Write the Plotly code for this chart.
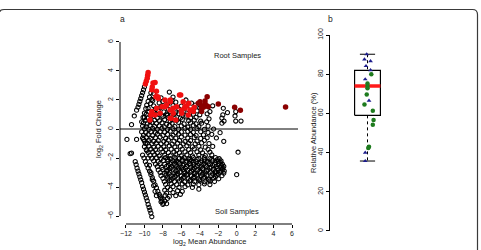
import plotly.graph_objects as go

# ---------------- Panel a data (log2 mean abundance, log2 fold change) ----------------
black_upper = [
    (-9.0, 2.45), (-7.3, 2.55), (-8.2, 2.15), (-6.9, 2.2), (-9.2, 2.05),
    (-9.1, 1.95), (-8.0, 1.9), (-7.0, 1.98), (-5.5, 2.0), (-9.35, 1.75), (-8.4, 1.8), (-7.5, 1.72),
    (-6.6, 1.85), (-4.9, 1.78), (-9.0, 1.6), (-8.2, 1.55), (-6.9, 1.62), (-6.0, 1.58), (-4.5, 1.65),
    (-2.6, 1.6),
    (-9.6, 1.42), (-8.8, 1.38), (-8.3, 1.45), (-7.4, 1.36), (-6.3, 1.41), (-5.3, 1.35), (-4.0, 1.45),
    (-1.45, 1.43), (-1.0, 1.13), (-9.5, 1.2), (-9.0, 1.15), (-8.5, 1.25), (-7.9, 1.18), (-7.2, 1.22),
    (-6.6, 1.12), (-5.8, 1.2), (-5.0, 1.15), (-4.3, 1.25), (-2.9, 1.2), (-0.1, 1.2), (-9.8, 1.02),
    (-9.25, 0.98), (-8.7, 1.05), (-8.15, 0.95), (-7.6, 1.03), (-6.9, 0.98), (-6.3, 1.05), (-5.5, 0.95),
    (-4.7, 1.02), (-4.0, 0.98), (-3.2, 1.05), (-1.5, 0.97), (-0.18, 0.9),
    (-10.0, 0.8), (-9.65, 0.75), (-9.1, 0.83), (-8.6, 0.76), (-8.0, 0.85), (-7.45, 0.78), (-6.8, 0.82),
    (-6.1, 0.75), (-5.5, 0.84), (-5.0, 0.77), (-4.4, 0.8), (-3.0, 0.7), (-1.6, 0.75), (-9.9, 0.6),
    (-9.4, 0.55), (-8.9, 0.62), (-8.35, 0.57), (-7.8, 0.65), (-7.2, 0.55), (-6.5, 0.6), (-5.9, 0.66),
    (-5.2, 0.57), (-4.6, 0.62), (-3.9, 0.55), (-3.25, 0.5), (-1.37, 0.55), (-0.1, 0.55), (0.47, 0.55),
    (-7.5, 0.95), (-9.3, 0.9),
    (-10.1, 0.42), (-9.7, 0.35), (-9.2, 0.45), (-8.7, 0.38), (-8.1, 0.43), (-7.6, 0.33), (-7.0, 0.4),
    (-6.3, 0.46), (-5.7, 0.35), (-5.0, 0.42), (-4.4, 0.36), (-3.8, 0.4), (-1.6, 0.4), (-10.2, 0.2),
    (-9.8, 0.15), (-9.4, 0.25), (-8.9, 0.18), (-8.4, 0.22), (-7.85, 0.15), (-7.3, 0.24), (-6.7, 0.16),
    (-6.0, 0.22), (-5.3, 0.14), (-4.7, 0.25), (-4.1, 0.17), (-3.1, 0.2), (-10.0, 0.02), (-9.5, -0.03),
    (-9.1, 0.05), (-8.6, -0.02), (-8.1, 0.04), (-7.5, -0.04), (-6.9, 0.03), (-6.3, -0.02), (-5.6, 0.05),
    (-5.0, -0.03), (-4.3, 0.03), (-3.5, -0.02), (-2.5, 0.0),
]
black_middle = [
    (-10.3, -0.2), (-9.85, -0.25), (-9.3, -0.17), (-8.8, -0.24), (-8.3, -0.18), (-7.8, -0.22),
    (-7.2, -0.15), (-6.6, -0.25), (-6.0, -0.2), (-5.3, -0.16), (-4.7, -0.23), (-3.9, -0.19),
    (-3.1, -0.24), (-1.8, -0.25), (-10.1, -0.42), (-9.6, -0.38), (-9.1, -0.45), (-8.6, -0.36),
    (-8.0, -0.44), (-7.5, -0.37), (-6.9, -0.43), (-6.3, -0.35), (-5.6, -0.42), (-5.0, -0.38),
    (-4.4, -0.45), (-3.6, -0.4), (-2.7, -0.37),
    (-10.2, -0.62), (-9.8, -0.57), (-9.3, -0.65), (-8.8, -0.6), (-8.3, -0.56), (-7.7, -0.64),
    (-7.1, -0.58), (-6.6, -0.63), (-6.0, -0.55), (-5.3, -0.62), (-4.6, -0.58), (-3.9, -0.65),
    (-3.2, -0.6), (-2.2, -0.62), (-10.1, -0.72), (-10.0, -0.83), (-9.5, -0.78), (-9.0, -0.85),
    (-8.5, -0.8), (-7.9, -0.86), (-7.4, -0.77), (-6.8, -0.84), (-6.2, -0.79), (-5.6, -0.86),
    (-5.0, -0.8), (-4.3, -0.83), (-3.5, -0.78), (-1.4, -0.85), (-9.7, -0.98), (-9.2, -1.03),
    (-8.7, -0.96), (-8.2, -1.02), (-7.6, -0.97), (-7.0, -1.04), (-6.4, -0.98), (-5.8, -1.03),
    (-5.2, -0.97), (-4.5, -1.02), (-3.8, -0.96), (-3.0, -1.0),
    (-10.0, -1.22), (-9.5, -1.18), (-9.0, -1.25), (-8.5, -1.19), (-7.9, -1.23), (-7.3, -1.17),
    (-6.7, -1.24), (-6.1, -1.2), (-5.4, -1.16), (-4.8, -1.23), (-4.1, -1.19), (-3.4, -1.25),
    (-2.6, -1.2), (-9.8, -1.42), (-9.3, -1.38), (-8.8, -1.44), (-8.2, -1.37), (-7.7, -1.43),
    (-7.1, -1.39), (-6.5, -1.45), (-5.9, -1.38), (-5.2, -1.42), (-4.6, -1.37), (-3.9, -1.44),
    (-3.1, -1.4),
    (-9.6, -1.62), (-9.1, -1.58), (-8.6, -1.64), (-8.0, -1.57), (-7.4, -1.63), (-6.8, -1.59),
    (-6.2, -1.65), (-5.6, -1.58), (-5.0, -1.62), (-4.3, -1.57), (-3.7, -1.64), (-2.9, -1.6),
    (0.15, -1.6), (-9.4, -1.82), (-8.9, -1.78), (-8.4, -1.85), (-7.8, -1.79), (-7.2, -1.84),
    (-6.6, -1.77), (-6.0, -1.83), (-5.4, -1.78), (-4.8, -1.85), (-4.1, -1.8), (-3.4, -1.83),
    (-2.7, -1.78),
]
black_lower = [
    (-9.2, -2.02), (-8.7, -1.97), (-8.2, -2.05), (-7.7, -1.98), (-7.2, -2.04), (-6.7, -1.96),
    (-6.2, -2.03), (-5.7, -1.98), (-5.2, -2.05), (-4.7, -1.97), (-4.1, -2.03), (-3.5, -1.98),
    (-2.9, -2.04), (-2.3, -1.97), (-1.9, -2.05),
    (-9.0, -2.2), (-8.5, -2.25), (-7.95, -2.17), (-7.45, -2.23), (-6.95, -2.18), (-6.45, -2.24),
    (-5.9, -2.17), (-5.4, -2.22), (-4.9, -2.16), (-4.4, -2.25), (-3.8, -2.19), (-3.2, -2.24),
    (-2.6, -2.18), (-2.0, -2.23), (-1.7, -2.2),
    (-8.8, -2.42), (-8.3, -2.37), (-7.8, -2.44), (-7.25, -2.38), (-6.75, -2.43), (-6.2, -2.36),
    (-5.7, -2.42), (-5.15, -2.38), (-4.65, -2.44), (-4.1, -2.37), (-3.55, -2.43), (-3.0, -2.38),
    (-2.4, -2.44), (-1.9, -2.39), (-1.55, -2.42),
    (-8.6, -2.6), (-8.1, -2.65), (-7.6, -2.58), (-7.05, -2.63), (-6.5, -2.57), (-6.0, -2.64),
    (-5.45, -2.59), (-4.95, -2.65), (-4.4, -2.58), (-3.85, -2.63), (-3.3, -2.57), (-2.75, -2.64),
    (-2.2, -2.59), (-1.7, -2.63), (-1.4, -2.58),
    (-8.5, -2.82), (-8.0, -2.78), (-7.45, -2.84), (-6.9, -2.77), (-6.35, -2.83), (-5.8, -2.78),
    (-5.3, -2.85), (-4.75, -2.79), (-4.2, -2.84), (-3.65, -2.77), (-3.1, -2.83), (-2.55, -2.78),
    (-2.0, -2.84), (-1.55, -2.79), (-1.35, -2.9),
    (-8.3, -3.0), (-7.8, -3.05), (-7.25, -2.98), (-6.7, -3.04), (-6.15, -2.97), (-5.6, -3.03),
    (-5.05, -2.98), (-4.5, -3.05), (-3.95, -2.99), (-3.4, -3.04), (-2.85, -2.97), (-2.3, -3.03),
    (-1.8, -2.98), (-1.4, -3.05),
    (-8.2, -3.22), (-7.65, -3.17), (-7.1, -3.23), (-6.55, -3.18), (-6.0, -3.24), (-5.45, -3.17),
    (-4.9, -3.23), (-4.35, -3.18), (-3.8, -3.24), (-3.25, -3.19), (-2.7, -3.23), (-2.15, -3.17),
    (-1.6, -3.22), (0.0, -3.15),
    (-8.0, -3.4), (-7.45, -3.45), (-6.9, -3.38), (-6.35, -3.44), (-5.8, -3.37), (-5.25, -3.43),
    (-4.7, -3.38), (-4.15, -3.44), (-3.6, -3.39), (-3.05, -3.45), (-2.5, -3.38), (-1.95, -3.43),
    (-7.85, -3.62), (-7.3, -3.57), (-6.75, -3.63), (-6.2, -3.58), (-5.65, -3.64), (-5.1, -3.57),
    (-4.55, -3.63), (-4.0, -3.58), (-3.45, -3.64), (-2.9, -3.59), (-2.4, -3.62),
    (-7.7, -3.82), (-7.1, -3.78), (-6.5, -3.84), (-5.9, -3.79), (-5.3, -3.85), (-4.7, -3.8),
    (-4.1, -3.84), (-3.5, -3.78), (-2.9, -3.83),
    (-7.5, -4.02), (-6.9, -3.97), (-6.25, -4.03), (-5.6, -3.98), (-4.1, -4.15), (-4.8, -4.03),
    (-7.8, -4.22), (-7.2, -4.18), (-6.4, -4.25), (-5.9, -4.3), (-7.6, -4.42), (-6.9, -4.38),
    (-8.3, -4.62), (-7.75, -4.58), (-7.3, -4.65), (-8.1, -4.82), (-7.5, -4.78), (-8.2, -5.02),
    (-7.8, -4.97), (-8.0, -5.2), (-7.6, -5.15), (-6.1, -4.5), (-6.6, -4.6),
]
# the darkest, most crowded part of the soil-enriched band
black_dense = [
    (-7.5, -2.1), (-6.7, -2.12), (-5.9, -2.08), (-5.1, -2.11), (-4.3, -2.09), (-3.5, -2.12),
    (-2.7, -2.08), (-2.1, -2.11),
    (-7.1, -2.31), (-6.3, -2.28), (-5.5, -2.32), (-4.7, -2.29), (-3.9, -2.31), (-3.1, -2.28),
    (-2.3, -2.32), (-1.8, -2.29),
    (-7.4, -2.52), (-6.6, -2.49), (-5.8, -2.51), (-5.0, -2.48), (-4.2, -2.52), (-3.4, -2.49),
    (-2.6, -2.51), (-1.65, -2.5),
    (-7.2, -2.71), (-6.3, -2.68), (-5.55, -2.72), (-4.6, -2.69), (-3.7, -2.71), (-2.9, -2.68),
    (-2.1, -2.72), (-1.5, -2.7),
    (-7.6, -2.91), (-6.6, -2.88), (-5.7, -2.92), (-4.9, -2.89), (-4.0, -2.91), (-3.3, -2.88),
    (-2.3, -2.92), (-1.7, -2.89),
    (-7.3, -3.11), (-6.4, -3.08), (-5.3, -3.12), (-4.6, -3.09), (-3.7, -3.11), (-2.6, -3.08),
    (-2.0, -3.12),
    (-7.5, -3.31), (-6.7, -3.28), (-5.7, -3.32), (-4.6, -3.29), (-3.5, -3.31), (-2.3, -3.28),
    (-7.1, -3.51), (-6.0, -3.48), (-5.0, -3.52), (-4.0, -3.49), (-3.0, -3.51),
]
# streaks of low-abundance OTUs along the left edge
black_streaks = [
    (-11.9, -0.72), (-10.85, -0.72), (-11.55, -1.7), (-11.4, -1.66),
    (-11.4, 0.3), (-11.1, 0.9), (-10.85, 1.3), (-10.7, 1.5), (-10.6, 1.7), (-10.5, 1.9),
    (-10.4, 2.1), (-10.3, 2.3), (-10.2, 2.5), (-10.1, 2.7), (-10.0, 2.9),
    (-10.3, 0.5), (-10.15, 0.8), (-10.0, 1.1), (-9.85, 1.4), (-9.75, 1.65), (-9.6, 1.9),
    (-9.45, 2.2), (-9.3, 2.5),
    (-11.0, -2.25), (-10.9, -2.45), (-10.8, -2.7), (-10.7, -2.9), (-10.6, -3.1), (-10.5, -3.3),
    (-10.4, -3.5), (-10.3, -3.7), (-10.2, -3.95), (-10.1, -4.15), (-10.0, -4.35), (-9.9, -4.55),
    (-9.8, -4.75), (-9.7, -4.95), (-9.6, -5.2), (-9.5, -5.4), (-9.4, -5.6), (-9.3, -5.8), (-9.2, -6.05),
    (-10.2, -1.8), (-10.05, -2.0), (-9.9, -2.25), (-9.75, -2.45), (-9.6, -2.7), (-9.45, -2.9),
    (-9.3, -3.15), (-9.15, -3.35), (-9.0, -3.6), (-8.85, -3.85), (-8.7, -4.05), (-8.55, -4.3),
    (-8.4, -4.5), (-8.25, -4.75), (-8.1, -4.95), (-7.95, -5.12),
    (-9.9, -1.0), (-9.75, -1.5), (-9.6, -2.0), (-9.45, -2.5), (-9.3, -3.0), (-9.15, -3.5),
    (-9.0, -3.9), (-8.85, -4.3), (-8.7, -4.6),
]
# significantly root-enriched OTUs (red) and the more abundant ones (dark red)
red_x = [-9.9, -9.8, -9.7, -9.65, -9.6, -9.2, -9.15, -9.07, -8.85, -8.7, -8.75, -8.5,
         -8.56, -7.77, -7.2, -6.2, -5.8, -5.2, -6.87, -5.6, -5.06, -4.7, -7.6, -8.1, -8.67,
         -7.1, -6.6, -9.3, -9.2, -7.2, -6.07, -7.77, -7.2, -6.5, -5.6, -4.87, -8.3, -8.85,
         -9.4, -5.96, -5.24, -6.87, -7.2, -6.0, -5.4, -4.6]
red_y = [3.1, 3.3, 3.5, 3.7, 3.9, 2.7, 2.9, 3.17, 3.2, 2.6, 2.23, 2.1,
         2.23, 2.0, 1.88, 2.34, 1.88, 1.77, 1.43, 1.45, 1.3, 1.2, 1.65, 1.54, 1.43,
         0.74, 0.62, 0.97, 1.2, 2.0, 2.34, 1.54, 1.31, 1.54, 1.54, 1.31, 1.08, 0.97,
         0.62, 1.08, 0.97, 1.08, 0.74, 1.3, 1.6, 1.5]
dred_x = [-4.16, -3.8, -3.43, -3.2, -3.43, -3.6, -3.07, -3.97, -1.99, -0.22, 0.4, 5.3,
          -3.25, -3.8, -3.8]
dred_y = [1.77, 1.6, 1.72, 2.23, 1.93, 1.5, 1.54, 1.88, 1.72, 1.5, 1.3, 1.52,
          1.6, 1.43, 1.2]

# ---------------- Panel b data (relative abundance %) ----------------
blue_y = [90.2, 87.6, 86.7, 84.2, 82.1, 77.4, 66.5, 40.0, 35.7]
blue_x = [0.99, 0.96, 1.04, 0.98, 1.04, 0.97, 1.02, 0.97, 0.97]
green_y = [80.0, 75.3, 74.0, 72.8, 69.7, 64.5, 61.4, 56.6, 54.2, 43.0, 42.3]
green_x = [1.05, 1.0, 1.0, 1.0, 0.99, 0.96, 1.07, 1.08, 1.07, 1.02, 1.01]
box_low, box_q1, box_median, box_q3, box_high = 35.7, 59.0, 74.0, 82.0, 90.2

x_ticks = [-12, -10, -8, -6, -4, -2, 0, 2, 4, 6]
y_ticks = [-6, -4, -2, 0, 2, 4, 6]
yb_ticks = [0, 20, 40, 60, 80, 100]

# ---------------- build ----------------
black_pts = black_upper + black_middle + black_lower + black_dense + black_streaks
bx = [p[0] for p in black_pts]
by = [p[1] for p in black_pts]

FONT = "Liberation Sans, Arial, sans-serif"
W, H = 481, 250


def px_x(p):
    return p / W


def px_y(p):
    return 1 - p / H


fig = go.Figure()
fig.add_trace(go.Scatter(x=[-12.65, 6.65], y=[0, 0], mode="lines",
                         line=dict(color="black", width=1), xaxis="x", yaxis="y",
                         hoverinfo="skip", showlegend=False))
fig.add_trace(go.Scatter(x=bx, y=by, mode="markers", xaxis="x", yaxis="y",
                         marker=dict(symbol="circle-open", size=4.2, color="black",
                                     line=dict(width=1.05, color="black")),
                         showlegend=False))
fig.add_trace(go.Scatter(x=red_x, y=red_y, mode="markers", xaxis="x", yaxis="y",
                         marker=dict(symbol="circle", size=5.5, color="#f01010", line=dict(width=0)),
                         showlegend=False))
fig.add_trace(go.Scatter(x=dred_x, y=dred_y, mode="markers", xaxis="x", yaxis="y",
                         marker=dict(symbol="circle", size=5.5, color="#8b0000", line=dict(width=0)),
                         showlegend=False))

# panel b boxplot
c, hw, cw = 1.0, 0.17, 0.1
fig.add_trace(go.Scatter(x=[c, c, None, c, c], y=[box_high, box_q3, None, box_q1, box_low],
                         mode="lines", line=dict(color="black", width=1, dash="3px,3px"),
                         xaxis="x2", yaxis="y2", showlegend=False, hoverinfo="skip"))
fig.add_trace(go.Scatter(x=[c - cw, c + cw, None, c - cw, c + cw],
                         y=[box_high, box_high, None, box_low, box_low],
                         mode="lines", line=dict(color="black", width=1),
                         xaxis="x2", yaxis="y2", showlegend=False, hoverinfo="skip"))
fig.add_trace(go.Scatter(x=[c - hw, c + hw, c + hw, c - hw, c - hw],
                         y=[box_q1, box_q1, box_q3, box_q3, box_q1],
                         mode="lines", line=dict(color="black", width=1.2),
                         xaxis="x2", yaxis="y2", showlegend=False, hoverinfo="skip"))
fig.add_trace(go.Scatter(x=[c - hw, c + hw], y=[box_median, box_median],
                         mode="lines", line=dict(color="#ff1a1a", width=3.5),
                         xaxis="x2", yaxis="y2", showlegend=False, hoverinfo="skip"))
fig.add_trace(go.Scatter(x=green_x, y=green_y, mode="markers", xaxis="x2", yaxis="y2",
                         marker=dict(symbol="circle", size=4.5, color="#1e7b1e"),
                         showlegend=False))
fig.add_trace(go.Scatter(x=blue_x, y=blue_y, mode="markers", xaxis="x2", yaxis="y2",
                         marker=dict(symbol="triangle-up", size=4.2, color="#1c1c8c"),
                         showlegend=False))

tickfont = dict(family=FONT, size=7, color="#222")
xa_dom = [px_x(120), px_x(298)]
ya_dom = [px_y(224), px_y(34)]
xb_dom = [px_x(329.5), px_x(329.5 + 76)]
yb_dom = [px_y(238.8), px_y(27.2)]

fig.update_layout(
    width=W, height=H, margin=dict(l=0, r=0, t=0, b=0),
    paper_bgcolor="white", plot_bgcolor="white",
    xaxis=dict(domain=xa_dom, range=[-12.65, 6.65], tickvals=x_ticks,
               ticks="outside", ticklen=3, tickwidth=1, tickcolor="black", showgrid=False,
               zeroline=False, showline=False, tickfont=tickfont, anchor="y"),
    yaxis=dict(domain=ya_dom, range=[-6.55, 6.55], tickvals=y_ticks,
               ticks="outside", ticklen=3, tickwidth=1, tickcolor="black", showgrid=False,
               zeroline=False, showline=False, tickfont=tickfont, tickangle=-90, anchor="x"),
    xaxis2=dict(domain=xb_dom, range=[0.5, 1.5], showticklabels=False, ticks="",
                showgrid=False, zeroline=False, showline=False, anchor="y2"),
    yaxis2=dict(domain=yb_dom, range=[-4, 104], tickvals=yb_ticks,
                ticks="outside", ticklen=3, tickwidth=1, tickcolor="black", showgrid=False,
                zeroline=False, showline=False, tickfont=tickfont, tickangle=-90, anchor="x2"),
    showlegend=False,
)

shapes = [
    dict(type="line", xref="x", yref="y domain", x0=x_ticks[0], x1=x_ticks[-1], y0=0, y1=0,
         line=dict(color="black", width=1)),
    dict(type="line", xref="x domain", yref="y", x0=0, x1=0, y0=y_ticks[0], y1=y_ticks[-1],
         line=dict(color="black", width=1)),
    dict(type="line", xref="x2 domain", yref="y2", x0=0, x1=0, y0=yb_ticks[0], y1=yb_ticks[-1],
         line=dict(color="black", width=1)),
]
L, T, R_, B, r = -1.0, 9.5, 477.5, 262.0, 5.0
path = (f"M {px_x(L)},{px_y(B)} L {px_x(L)},{px_y(T + r)} Q {px_x(L)},{px_y(T)} {px_x(L + r)},{px_y(T)} "
        f"L {px_x(R_ - r)},{px_y(T)} Q {px_x(R_)},{px_y(T)} {px_x(R_)},{px_y(T + r)} L {px_x(R_)},{px_y(B)}")
shapes.append(dict(type="path", xref="paper", yref="paper", path=path,
                   line=dict(color="#3a3a3a", width=1.2)))
fig.update_layout(shapes=shapes)


def label(text, x, y, size=7.5, angle=0):
    return dict(text=text, x=px_x(x), y=px_y(y), xref="paper", yref="paper",
                xanchor="center", yanchor="middle", showarrow=False, textangle=angle,
                font=dict(family=FONT, size=size, color="#222"))


annotations = [
    label("a", 122, 19, 8.5),
    label("b", 330, 19, 8.5),
    label("Root Samples", 237, 56),
    label("Soil Samples", 237, 211),
    label("log<sub>2</sub> Mean Abundance", 209, 242),
    label("log<sub>2</sub> Fold Change", 99, 129, angle=-90),
    label("Relative Abundance (%)", 313, 133, angle=-90),
]
fig.update_layout(annotations=annotations)

fig.write_html("out.html")
